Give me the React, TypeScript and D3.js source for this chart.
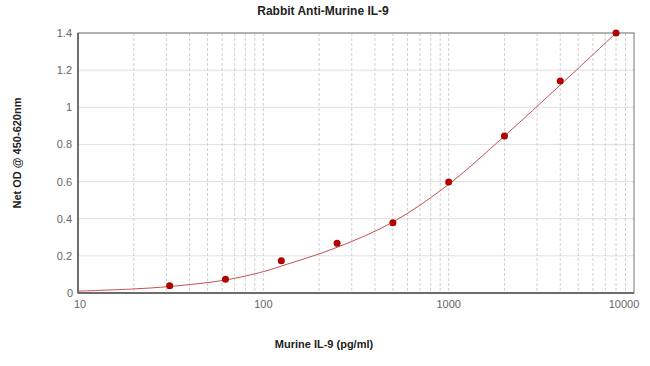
import React from "react";
import * as d3 from "d3";

// standard dilution series
const concentrations = [31.25, 62.5, 125, 250, 500, 1000, 2000, 4000, 8000];
const netOD = [0.039, 0.074, 0.174, 0.268, 0.378, 0.598, 0.845, 1.142, 1.4];

// fitted curve
const curveX = [10, 20, 31.25, 62.5, 100, 125, 250, 500, 1000, 2000, 4000, 8000];
const curveY = [0.01, 0.022, 0.035, 0.07, 0.115, 0.145, 0.246, 0.382, 0.585, 0.845, 1.12, 1.4];

const yTicks = [0, 0.2, 0.4, 0.6, 0.8, 1, 1.2, 1.4];
const xMajor = [10, 100, 1000, 10000];

export default function App() {
  const width = 650;
  const height = 366;
  const left = 78;
  const right = 634;
  const top = 33;
  const bottom = 293;

  const x = d3.scaleLog().domain([10, 10000]).range([left, right]);
  const y = d3.scaleLinear().domain([0, 1.4]).range([bottom, top]);

  const minor: number[] = [];
  [10, 100, 1000].forEach((d) => {
    for (let k = 2; k <= 9; k++) minor.push(d * k);
  });

  const line = d3
    .line<number>()
    .x((d) => x(d))
    .y((d, i) => y(curveY[i]))
    .curve(d3.curveCatmullRom.alpha(0.5));

  const font = "Arial, 'Liberation Sans', sans-serif";

  return (
    <svg
      width={width}
      height={height}
      style={{ position: "absolute", left: 0, top: 0, background: "#fff" }}
      fontFamily={font}
    >
      {yTicks.map((t) => (
        <line key={"h" + t} x1={left} x2={right} y1={y(t)} y2={y(t)} stroke="#e0e0e0" strokeWidth={1} />
      ))}
      {minor.concat(xMajor.slice(1, 3)).map((v) => (
        <line
          key={"v" + v}
          x1={x(v)}
          x2={x(v)}
          y1={top}
          y2={bottom}
          stroke="#d0d0d0"
          strokeWidth={1}
          strokeDasharray="3,2"
        />
      ))}
      <rect x={left} y={top} width={right - left} height={bottom - top} fill="none" stroke="#777" strokeWidth={1} />
      <line x1={left} x2={left} y1={top} y2={bottom} stroke="#555" strokeWidth={1.5} />
      <line x1={left} x2={right} y1={bottom} y2={bottom} stroke="#555" strokeWidth={1.5} />

      <path d={line(curveX) || ""} fill="none" stroke="#c85050" strokeWidth={1} />
      {concentrations.map((c, i) => (
        <circle key={c} cx={x(c)} cy={y(netOD[i])} r={3.5} fill="#b00000" />
      ))}

      {yTicks.map((t) => (
        <text
          key={"yl" + t}
          x={t === 0 ? 73 : 72}
          y={t === 0 ? y(t) + 4 : y(t) + 4}
          textAnchor="end"
          fontSize={11}
          fill="#666"
        >
          {t === 0 ? "0" : d3.format("~g")(t)}
        </text>
      ))}
      {xMajor.map((v) => (
        <text
          key={"xl" + v}
          x={v === 10000 ? x(v) - 10 : v === 10 ? x(v) + 2 : x(v)}
          y={308}
          textAnchor="middle"
          fontSize={11}
          fill="#666"
        >
          {v}
        </text>
      ))}

      <text x={323} y={15} textAnchor="middle" fontSize={12} fontWeight="bold" fill="#222">
        Rabbit Anti-Murine IL-9
      </text>
      <text x={324} y={348} textAnchor="middle" fontSize={11} fontWeight="bold" fill="#222">
        Murine IL-9 (pg/ml)
      </text>
      <text
        transform="translate(21,153) rotate(-90)"
        textAnchor="middle"
        fontSize={11}
        fontWeight="bold"
        fill="#222"
      >
        Net OD @ 450-620nm
      </text>
    </svg>
  );
}
